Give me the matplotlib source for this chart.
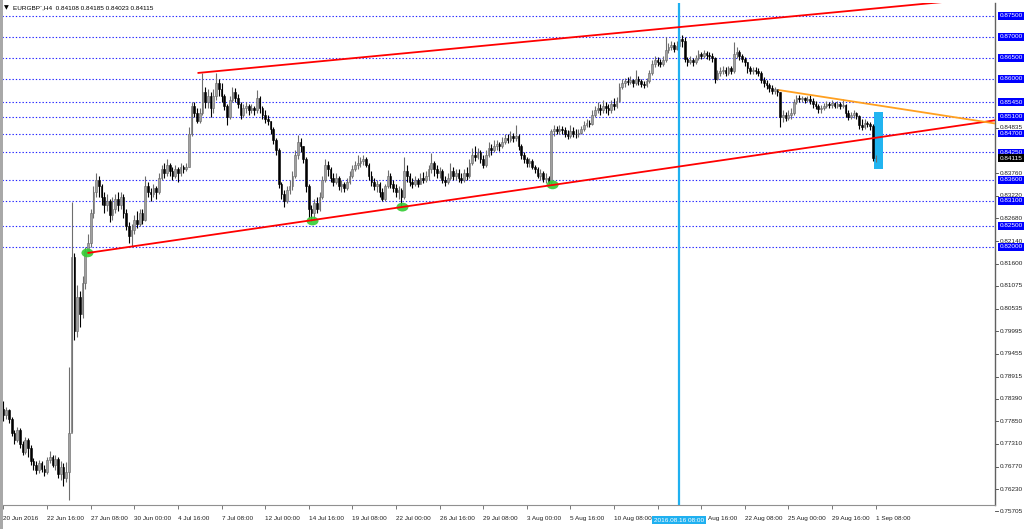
import matplotlib
matplotlib.use('Agg')
import matplotlib.pyplot as plt
from matplotlib.patches import Rectangle, Ellipse
from matplotlib.transforms import blended_transform_factory, offset_copy
import numpy as np

plt.rcParams['font.family'] = ['Liberation Sans', 'DejaVu Sans']

# ---------------- data (EURGBP H4, bar index 0 = 20 Jun 2016 00:00) ----------------
first_open = 0.7815
closes = [
    0.7800, 0.7812, 0.7790, 0.7758, 0.7740, 0.7765, 0.7730, 0.7712, 0.7740, 0.7722,
    0.7690, 0.7680, 0.7668, 0.7685, 0.7672, 0.7665, 0.7692, 0.7700, 0.7682, 0.7695,
    0.7660, 0.7676, 0.7650, 0.7665, 0.7757, 0.8176, 0.8000, 0.8080, 0.8040, 0.8115,
    0.8190, 0.8210, 0.8280, 0.8330, 0.8360, 0.8345, 0.8320, 0.8300, 0.8310, 0.8275,
    0.8290, 0.8315, 0.8300, 0.8320, 0.8280, 0.8250, 0.8225, 0.8240, 0.8265, 0.8255,
    0.8280, 0.8265, 0.8345, 0.8330, 0.8325, 0.8340, 0.8330, 0.8365, 0.8385, 0.8375,
    0.8395, 0.8380, 0.8370, 0.8385, 0.8375, 0.8390, 0.8385, 0.8390, 0.8470, 0.8535,
    0.8520, 0.8500, 0.8520, 0.8570, 0.8545, 0.8560, 0.8530, 0.8560, 0.8590, 0.8575,
    0.8560, 0.8535, 0.8510, 0.8550, 0.8570, 0.8555, 0.8540, 0.8515, 0.8530, 0.8535,
    0.8525, 0.8530, 0.8525, 0.8555, 0.8530, 0.8515, 0.8505, 0.8500, 0.8480, 0.8455,
    0.8430, 0.8350, 0.8325, 0.8310, 0.8335, 0.8345, 0.8370, 0.8420, 0.8450, 0.8440,
    0.8410, 0.8345, 0.8290, 0.8280, 0.8305, 0.8290, 0.8320, 0.8360, 0.8395, 0.8385,
    0.8365, 0.8355, 0.8365, 0.8345, 0.8350, 0.8340, 0.8355, 0.8370, 0.8385, 0.8395,
    0.8400, 0.8405, 0.8410, 0.8395, 0.8370, 0.8355, 0.8345, 0.8350, 0.8330, 0.8315,
    0.8345, 0.8370, 0.8350, 0.8340, 0.8330, 0.8335, 0.8320, 0.8380, 0.8370, 0.8355,
    0.8350, 0.8360, 0.8350, 0.8365, 0.8360, 0.8370, 0.8385, 0.8400, 0.8385, 0.8375,
    0.8380, 0.8360, 0.8355, 0.8365, 0.8380, 0.8370, 0.8375, 0.8365, 0.8360, 0.8375,
    0.8370, 0.8400, 0.8420, 0.8415, 0.8425, 0.8410, 0.8395, 0.8420, 0.8435, 0.8430,
    0.8440, 0.8445, 0.8440, 0.8450, 0.8460, 0.8455, 0.8465, 0.8460, 0.8465, 0.8440,
    0.8420, 0.8410, 0.8400, 0.8405, 0.8390, 0.8385, 0.8370, 0.8375, 0.8362, 0.8365,
    0.8355, 0.8475, 0.8480, 0.8475, 0.8482, 0.8478, 0.8470, 0.8465, 0.8475, 0.8470,
    0.8468, 0.8472, 0.8480, 0.8490, 0.8495, 0.8492, 0.8515, 0.8525, 0.8530, 0.8525,
    0.8535, 0.8530, 0.8525, 0.8540, 0.8535, 0.8548, 0.8580, 0.8590, 0.8595, 0.8592,
    0.8598, 0.8590, 0.8600, 0.8595, 0.8588, 0.8585, 0.8595, 0.8615, 0.8635, 0.8645,
    0.8640, 0.8635, 0.8645, 0.8670, 0.8675, 0.8680, 0.8672, 0.8678, 0.8695, 0.8690,
    0.8648, 0.8640, 0.8645, 0.8640, 0.8650, 0.8660, 0.8655, 0.8662, 0.8658, 0.8655,
    0.8650, 0.8600, 0.8615, 0.8618, 0.8622, 0.8615, 0.8625, 0.8620, 0.8660, 0.8665,
    0.8655, 0.8648, 0.8640, 0.8625, 0.8618, 0.8622, 0.8618, 0.8615, 0.8598, 0.8590,
    0.8585, 0.8578, 0.8572, 0.8575, 0.8568, 0.8510, 0.8515, 0.8508, 0.8515, 0.8520,
    0.8545, 0.8555, 0.8552, 0.8555, 0.8550, 0.8552, 0.8548, 0.8540, 0.8535, 0.8528,
    0.8530, 0.8535, 0.8540, 0.8538, 0.8542, 0.8536, 0.8540, 0.8535, 0.8538, 0.8518,
    0.8510, 0.8515, 0.8518, 0.8512, 0.8490, 0.8485, 0.8495, 0.8492, 0.8488, 0.84108,
    0.84115,
]
highs = [
    0.7833, 0.7820, 0.7815, 0.7795, 0.7765, 0.7772, 0.7770, 0.7738, 0.7748, 0.7745,
    0.7728, 0.7698, 0.7690, 0.7692, 0.7690, 0.7680, 0.7700, 0.7715, 0.7705, 0.7705,
    0.7700, 0.7690, 0.7685, 0.7688, 0.7914, 0.8307, 0.8185, 0.8110, 0.8095, 0.8130,
    0.8200, 0.8230, 0.8290, 0.8345, 0.8376, 0.8370, 0.8350, 0.8330, 0.8325, 0.8315,
    0.8320, 0.8325, 0.8330, 0.8330, 0.8325, 0.8290, 0.8260, 0.8255, 0.8275, 0.8285,
    0.8290, 0.8290, 0.8370, 0.8355, 0.8340, 0.8350, 0.8345, 0.8375, 0.8395, 0.8400,
    0.8410, 0.8400, 0.8390, 0.8395, 0.8390, 0.8400, 0.8395, 0.8400, 0.8485, 0.8545,
    0.8545, 0.8530, 0.8530, 0.8614, 0.8580, 0.8575, 0.8570, 0.8575, 0.8614, 0.8600,
    0.8590, 0.8565, 0.8540, 0.8560, 0.8580, 0.8578, 0.8565, 0.8545, 0.8540, 0.8545,
    0.8540, 0.8540, 0.8535, 0.8574, 0.8560, 0.8535, 0.8525, 0.8515, 0.8500, 0.8485,
    0.8460, 0.8435, 0.8355, 0.8335, 0.8345, 0.8360, 0.8380, 0.8430, 0.8467, 0.8460,
    0.8440, 0.8415, 0.8350, 0.8300, 0.8315, 0.8320, 0.8330, 0.8370, 0.8410, 0.8405,
    0.8390, 0.8375, 0.8375, 0.8370, 0.8360, 0.8355, 0.8365, 0.8380, 0.8395, 0.8405,
    0.8419, 0.8415, 0.8418, 0.8415, 0.8400, 0.8380, 0.8365, 0.8360, 0.8355, 0.8340,
    0.8350, 0.8383, 0.8375, 0.8360, 0.8350, 0.8345, 0.8340, 0.8414, 0.8395, 0.8375,
    0.8365, 0.8370, 0.8365, 0.8375, 0.8378, 0.8380, 0.8395, 0.8424, 0.8405, 0.8395,
    0.8390, 0.8385, 0.8370, 0.8375, 0.8400, 0.8390, 0.8385, 0.8385, 0.8375, 0.8385,
    0.8390, 0.8410, 0.8435, 0.8440, 0.8435, 0.8430, 0.8420, 0.8430, 0.8450, 0.8445,
    0.8455, 0.8455, 0.8450, 0.8462, 0.8470, 0.8468, 0.8475, 0.8472, 0.8490, 0.8468,
    0.8445, 0.8425, 0.8415, 0.8412, 0.8410, 0.8395, 0.8390, 0.8385, 0.8380, 0.8375,
    0.8370, 0.8480, 0.8490, 0.8488, 0.8490, 0.8488, 0.8485, 0.8478, 0.8490, 0.8485,
    0.8480, 0.8482, 0.8488, 0.8500, 0.8505, 0.8502, 0.8525, 0.8535, 0.8545, 0.8540,
    0.8550, 0.8545, 0.8540, 0.8550, 0.8555, 0.8558, 0.8590, 0.8600, 0.8602, 0.8605,
    0.8606, 0.8600, 0.8621, 0.8608, 0.8600, 0.8595, 0.8602, 0.8622, 0.8645, 0.8655,
    0.8652, 0.8648, 0.8655, 0.8700, 0.8685, 0.8690, 0.8688, 0.8690, 0.8717, 0.8705,
    0.8700, 0.8652, 0.8655, 0.8650, 0.8658, 0.8668, 0.8665, 0.8670, 0.8666, 0.8665,
    0.8662, 0.8652, 0.8622, 0.8628, 0.8630, 0.8628, 0.8632, 0.8630, 0.8688, 0.8675,
    0.8668, 0.8660, 0.8652, 0.8640, 0.8630, 0.8628, 0.8628, 0.8625, 0.8618, 0.8605,
    0.8598, 0.8590, 0.8585, 0.8582, 0.8574, 0.8570, 0.8525, 0.8522, 0.8525, 0.8530,
    0.8552, 0.8562, 0.8562, 0.8560, 0.8558, 0.8560, 0.8562, 0.8555, 0.8548, 0.8540,
    0.8538, 0.8542, 0.8548, 0.8545, 0.8550, 0.8546, 0.8548, 0.8545, 0.8552, 0.8540,
    0.8525, 0.8522, 0.8525, 0.8522, 0.8515, 0.8505, 0.8505, 0.8500, 0.8498, 0.8492,
    0.84185,
]
lows = [
    0.7785, 0.7790, 0.7780, 0.7750, 0.7732, 0.7735, 0.7722, 0.7705, 0.7708, 0.7700,
    0.7682, 0.7670, 0.7660, 0.7662, 0.7665, 0.7655, 0.7660, 0.7685, 0.7675, 0.7670,
    0.7650, 0.7645, 0.7632, 0.7640, 0.7598, 0.7760, 0.7979, 0.7985, 0.8010, 0.8030,
    0.8100, 0.8186, 0.8200, 0.8270, 0.8320, 0.8320, 0.8300, 0.8280, 0.8285, 0.8260,
    0.8265, 0.8280, 0.8285, 0.8290, 0.8270, 0.8240, 0.8210, 0.8200, 0.8230, 0.8245,
    0.8250, 0.8255, 0.8262, 0.8320, 0.8310, 0.8320, 0.8315, 0.8325, 0.8360, 0.8365,
    0.8370, 0.8370, 0.8360, 0.8365, 0.8355, 0.8370, 0.8375, 0.8380, 0.8390, 0.8465,
    0.8510, 0.8495, 0.8495, 0.8515, 0.8530, 0.8530, 0.8510, 0.8520, 0.8550, 0.8560,
    0.8545, 0.8525, 0.8490, 0.8505, 0.8545, 0.8545, 0.8530, 0.8505, 0.8510, 0.8520,
    0.8515, 0.8520, 0.8515, 0.8520, 0.8520, 0.8505, 0.8495, 0.8490, 0.8470, 0.8445,
    0.8420, 0.8340, 0.8315, 0.8295, 0.8305, 0.8325, 0.8335, 0.8365, 0.8410, 0.8425,
    0.8400, 0.8330, 0.8270, 0.8262, 0.8265, 0.8280, 0.8285, 0.8315, 0.8355, 0.8370,
    0.8355, 0.8345, 0.8350, 0.8335, 0.8330, 0.8330, 0.8335, 0.8350, 0.8365, 0.8380,
    0.8385, 0.8390, 0.8395, 0.8390, 0.8360, 0.8345, 0.8335, 0.8330, 0.8320, 0.8310,
    0.8310, 0.8340, 0.8340, 0.8330, 0.8320, 0.8315, 0.8297, 0.8315, 0.8355, 0.8345,
    0.8340, 0.8345, 0.8342, 0.8350, 0.8352, 0.8355, 0.8360, 0.8375, 0.8370, 0.8365,
    0.8365, 0.8352, 0.8345, 0.8350, 0.8360, 0.8360, 0.8360, 0.8355, 0.8352, 0.8355,
    0.8360, 0.8365, 0.8395, 0.8405, 0.8410, 0.8400, 0.8388, 0.8390, 0.8415, 0.8420,
    0.8425, 0.8430, 0.8428, 0.8435, 0.8445, 0.8448, 0.8450, 0.8450, 0.8452, 0.8432,
    0.8410, 0.8400, 0.8390, 0.8390, 0.8385, 0.8375, 0.8365, 0.8360, 0.8355, 0.8352,
    0.8350, 0.8348, 0.8465, 0.8468, 0.8470, 0.8468, 0.8462, 0.8458, 0.8460, 0.8462,
    0.8460, 0.8462, 0.8468, 0.8475, 0.8485, 0.8485, 0.8490, 0.8510, 0.8520, 0.8515,
    0.8520, 0.8520, 0.8515, 0.8520, 0.8525, 0.8530, 0.8545, 0.8575, 0.8582, 0.8585,
    0.8588, 0.8580, 0.8585, 0.8585, 0.8580, 0.8578, 0.8580, 0.8590, 0.8610, 0.8628,
    0.8630, 0.8628, 0.8630, 0.8640, 0.8662, 0.8668, 0.8665, 0.8668, 0.8672, 0.8675,
    0.8640, 0.8632, 0.8635, 0.8632, 0.8635, 0.8645, 0.8648, 0.8650, 0.8648, 0.8645,
    0.8640, 0.8590, 0.8598, 0.8608, 0.8612, 0.8608, 0.8610, 0.8612, 0.8615, 0.8650,
    0.8645, 0.8640, 0.8632, 0.8615, 0.8612, 0.8612, 0.8612, 0.8608, 0.8590, 0.8580,
    0.8575, 0.8570, 0.8565, 0.8565, 0.8560, 0.8486, 0.8498, 0.8500, 0.8502, 0.8505,
    0.8515, 0.8540, 0.8545, 0.8545, 0.8542, 0.8545, 0.8540, 0.8530, 0.8528, 0.8520,
    0.8520, 0.8525, 0.8530, 0.8530, 0.8532, 0.8530, 0.8532, 0.8528, 0.8530, 0.8510,
    0.8502, 0.8505, 0.8508, 0.8505, 0.8480, 0.8478, 0.8482, 0.8485, 0.8478, 0.8405,
    0.84023,
]
opens = [first_open] + closes[:-1]

tick_bars = [0, 16, 32, 48, 64, 80, 96, 112, 128, 144, 160, 176, 192, 208, 224, 240,
             256, 272, 288, 304, 320]
tick_labels = ["20 Jun 2016", "22 Jun 16:00", "27 Jun 08:00", "30 Jun 00:00", "4 Jul 16:00",
               "7 Jul 08:00", "12 Jul 00:00", "14 Jul 16:00", "19 Jul 08:00", "22 Jul 00:00",
               "26 Jul 16:00", "29 Jul 08:00", "3 Aug 00:00", "5 Aug 16:00", "10 Aug 08:00",
               "", "Aug 16:00", "22 Aug 08:00", "25 Aug 00:00", "29 Aug 16:00", "1 Sep 08:00"]

hlevels = [0.87500, 0.87000, 0.86500, 0.86000, 0.85450, 0.85100, 0.84700, 0.84250,
           0.83600, 0.83100, 0.82500, 0.82000]
scale_labels = [0.84835, 0.83760, 0.83220, 0.82680, 0.82140, 0.81600, 0.81075, 0.80535,
                0.79995, 0.79455, 0.78915, 0.78390, 0.77850, 0.77310, 0.76770, 0.76230, 0.75705]
current_price = 0.84115

# trend objects (bar index, price)
lower_trend = [(30.8, 0.81857), (201.5, 0.83476)]
upper_trend = [(71.2, 0.86143), (248.4, 0.87238)]
orange_trend = [(284.4, 0.85738), (320.0, 0.85381)]
green_marks = [(30.8, 0.8186), (113.4, 0.8262), (146.4, 0.8295), (201.5, 0.8348)]
vline_bar = 248
vline_label = "2016.08.16 08:00"
box_bars = (319.3, 322.6)
box_prices = (0.8386, 0.8521)
title_text = "EURGBP`,H4  0.84108 0.84185 0.84023 0.84115"

# ---------------- figure ----------------
W, H = 1024, 529
fig = plt.figure(figsize=(W / 100, H / 100), dpi=100)
fig.patch.set_facecolor('white')


def fx(px):
    return px / W


def fy(py):
    return 1 - py / H


AX_TOP, AX_BOT = 3, 505
ax = fig.add_axes([fx(2), fy(AX_BOT), fx(995) - fx(2), fy(AX_TOP) - fy(AX_BOT)])
ax.set_facecolor('white')
ax.set_xlim(-0.55, 363.85)
ax.set_ylim(0.758571, 0.878095)

n = len(closes)
idx = np.arange(n)
o = np.array(opens)
c = np.array(closes)
h = np.array(highs)
l = np.array(lows)
up = c >= o
dn = ~up

# horizontal lines
for lv in hlevels:
    ax.axhline(lv, color='#2020ff', lw=0.8, ls=(0, (1.2, 1.8)), zorder=1)

# cyan rectangle
ax.add_patch(Rectangle((box_bars[0], box_prices[0]), box_bars[1] - box_bars[0],
                       box_prices[1] - box_prices[0], facecolor='#22b4f0',
                       edgecolor='none', zorder=1.5))

# candles
ax.vlines(idx[up], l[up], h[up], color='#6e6e6e', lw=0.8, zorder=2)
ax.vlines(idx[dn], l[dn], h[dn], color='#000000', lw=0.8, zorder=2)
ax.bar(idx[up], c[up] - o[up], bottom=o[up], width=0.62, color='#a0a0a0',
       edgecolor='#666666', linewidth=0.4, zorder=2.1)
ax.bar(idx[dn], c[dn] - o[dn], bottom=o[dn], width=0.62, color='#000000',
       edgecolor='#000000', linewidth=0.4, zorder=2.1)

# vertical cyan line
ax.axvline(vline_bar, color='#1fb0f0', lw=1.6, zorder=3)

# trend rays
x_end = ax.get_xlim()[1]


def ray(pts, color):
    (x0, y0), (x1, y1) = pts
    s = (y1 - y0) / (x1 - x0)
    ax.plot([x0, x_end], [y0, y0 + s * (x_end - x0)], color=color, lw=1.3,
            solid_capstyle='butt', zorder=4)


ray(lower_trend, '#ff0000')
ray(upper_trend, '#ff0000')
ray(orange_trend, '#ffa020')

# green ellipses
for gx, gy in green_marks:
    ax.add_patch(Ellipse((gx, gy), 4.4, 0.0021, facecolor='#33cc33', edgecolor='none',
                         alpha=0.9, zorder=3.5))

# spines
for s in ['top', 'left']:
    ax.spines[s].set_visible(False)
ax.spines['right'].set_color('#606060')
ax.spines['right'].set_linewidth(1.0)
ax.spines['bottom'].set_color('#909090')
ax.spines['bottom'].set_linewidth(0.8)

# x ticks
FS = 4.6
ax.set_xticks(tick_bars)
ax.set_xticklabels(tick_labels, fontsize=FS, color='#202020', ha='left')
ax.tick_params(axis='x', direction='out', length=3, width=0.6, color='#606060', pad=5)
# the label after the highlighted time box starts right of that box
lab16 = ax.get_xticklabels()[16]
lab16.set_transform(offset_copy(lab16.get_transform(), fig=fig, x=7, y=0, units='dots'))
ax.set_yticks([])

# vline label box on time axis
ax.text(vline_bar, -(520 - AX_BOT) / (AX_BOT - AX_TOP), vline_label,
        transform=blended_transform_factory(ax.transData, ax.transAxes),
        ha='center', va='center', fontsize=FS, color='white', zorder=10, clip_on=False,
        bbox=dict(boxstyle='square,pad=0.3', facecolor='#1fb0f0', edgecolor='none'))

# price scale
PS = 4.6
tr = blended_transform_factory(ax.transAxes, ax.transData)
for v in scale_labels:
    ax.plot([1.0, 1.003], [v, v], transform=tr, color='#404040', lw=0.6, clip_on=False)
    ax.text(1.0045, v, f"{v:.5f}", transform=tr, ha='left', va='center', fontsize=PS,
            color='#202020', clip_on=False, zorder=5)
for v in hlevels:
    ax.text(1.0045, v, f"{v:.5f}", transform=tr, ha='left', va='center', fontsize=PS,
            color='white', clip_on=False, zorder=6,
            bbox=dict(boxstyle='square,pad=0.2', facecolor='#0000ff', edgecolor='none'))
ax.text(1.0045, current_price, f"{current_price:.5f}", transform=tr, ha='left', va='center',
        fontsize=PS, color='white', clip_on=False, zorder=7,
        bbox=dict(boxstyle='square,pad=0.2', facecolor='#000000', edgecolor='none'))

# left window border
fig.patches.append(Rectangle((0, 0), fx(2.5), 1, transform=fig.transFigure,
                             facecolor='#a8a8a8', edgecolor='none', zorder=0))

# title
fig.text(fx(4), fy(8), "\u25bc", fontsize=4.5, color='black', ha='left', va='center',
         family=['DejaVu Sans'])
fig.text(fx(13), fy(8), title_text, fontsize=4.6, color='black', ha='left', va='center')

fig.savefig('out.png', dpi=100, facecolor='white')
